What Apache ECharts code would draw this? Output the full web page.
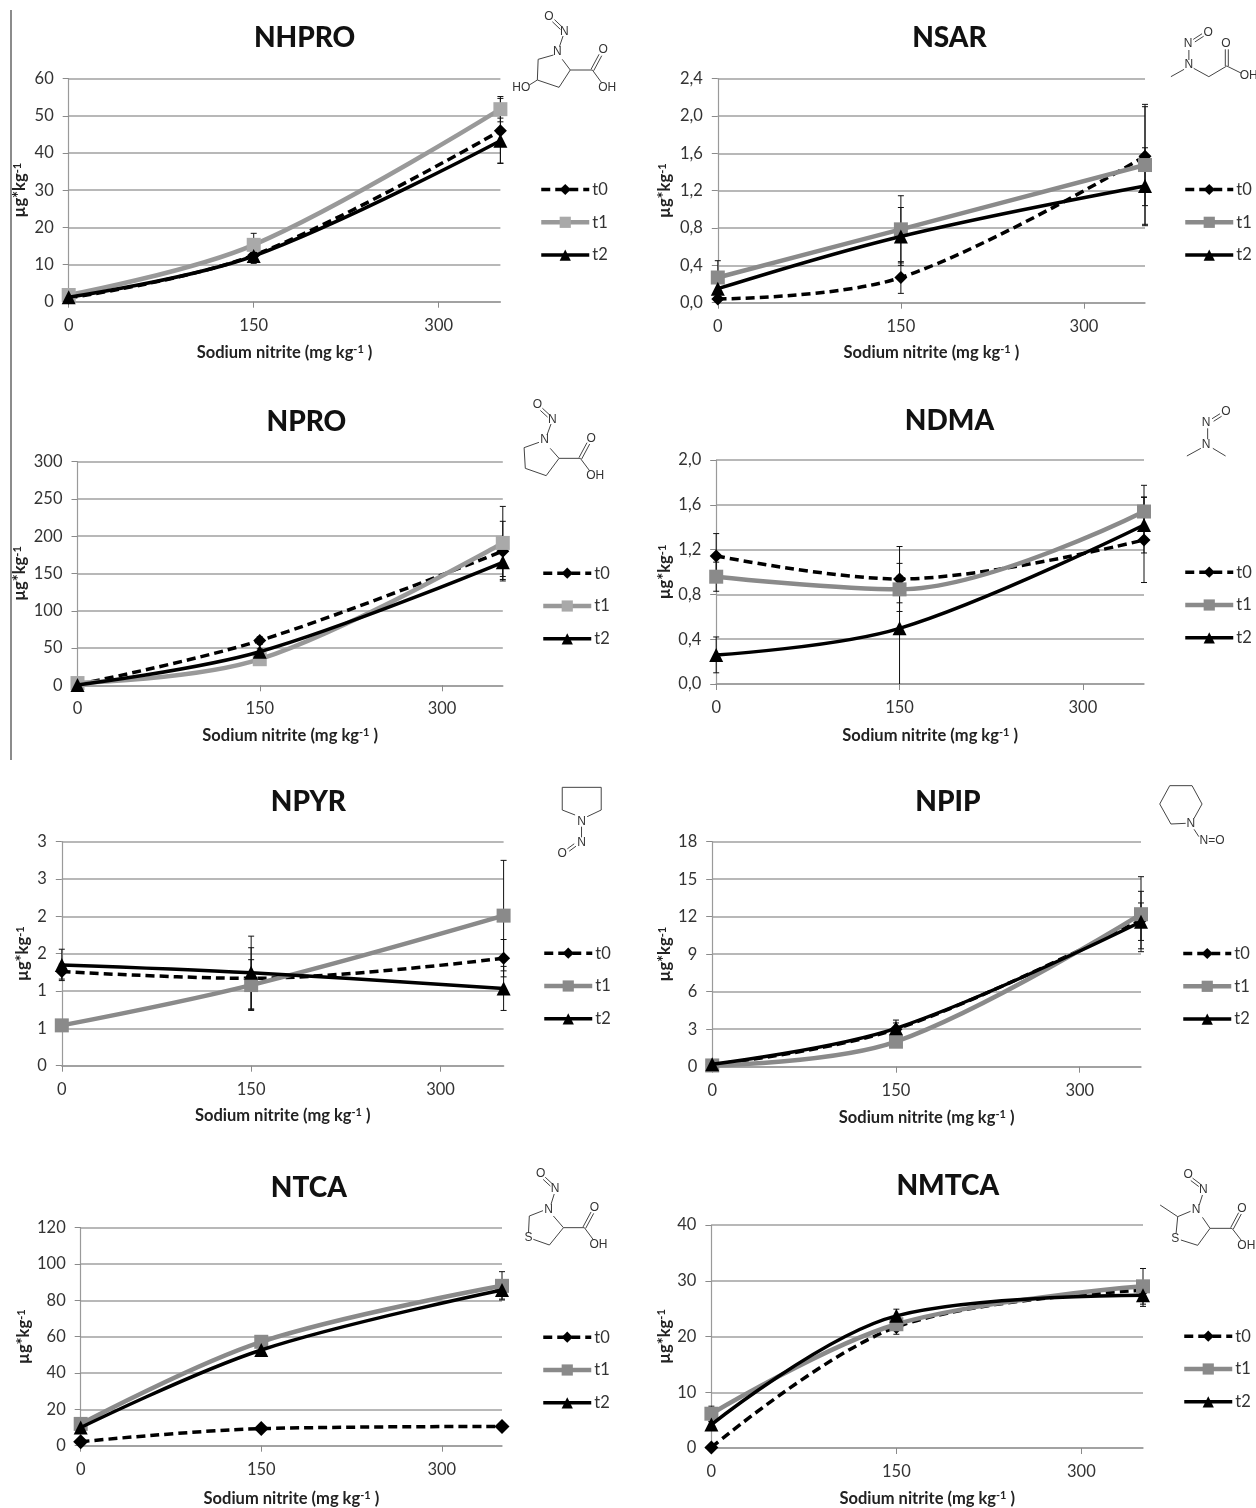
<!DOCTYPE html>
<html>
<head>
<meta charset="utf-8">
<style>html,body{margin:0;padding:0;background:#fff}#c{width:1256px;height:1508px}</style>
<script src="https://cdn.jsdelivr.net/npm/echarts@6/dist/echarts.min.js"></script>
</head>
<body>
<div id="c"></div>
<script>
// ---- data ----
const doses = [0, 150, 350];
const xTicks = [0, 150, 300];
const legendNames = ['t0', 't1', 't2'];

const NHPRO_t0 = [1.0, 12.5, 46.0];
const NHPRO_t1 = [1.8, 15.3, 51.8];
const NHPRO_t2 = [1.2, 12.3, 43.3];
const NHPRO_e0 = [0.3, 1.5, 8.7];
const NHPRO_e1 = [0.3, 3.1, 3.4];
const NHPRO_e2 = [0.3, 2.0, 6.1];

const NSAR_t0 = [0.04, 0.27, 1.57];
const NSAR_t1 = [0.27, 0.786, 1.475];
const NSAR_t2 = [0.15, 0.71, 1.25];
const NSAR_e0 = [0.02, 0.17, 0.53];
const NSAR_e1 = [0.18, 0.36, 0.65];
const NSAR_e2 = [0.14, 0.31, 0.41];

const NPRO_t0 = [1, 60, 180];
const NPRO_t1 = [3, 35, 191];
const NPRO_t2 = [0.5, 45, 165];
const NPRO_e0 = [0.5, 5, 40];
const NPRO_e1 = [1, 3, 49];
const NPRO_e2 = [0.3, 4, 19];

const NDMA_t0 = [1.143, 0.9375, 1.286];
const NDMA_t1 = [0.958, 0.845, 1.54];
const NDMA_t2 = [0.26, 0.497, 1.42];
const NDMA_e0 = [0.2, 0.29, 0.38];
const NDMA_e1 = [0.13, 0.12, 0.234];
const NDMA_e2 = [0.16, 0.58, 0.25];

const NPYR_t0 = [1.26, 1.17, 1.44];
const NPYR_t1 = [0.54, 1.08, 2.01];
const NPYR_t2 = [1.35, 1.245, 1.035];
const NPYR_e0 = [0.1, 0.41, 0.25];
const NPYR_e1 = [0.03, 0.34, 0.74];
const NPYR_e2 = [0.21, 0.49, 0.295];

const NPIP_t0 = [0.15, 3.0, 11.73];
const NPIP_t1 = [0.1, 2.0, 12.2];
const NPIP_t2 = [0.2, 3.07, 11.6];
const NPIP_e0 = [0.05, 0.5, 2.3];
const NPIP_e1 = [0.05, 0.4, 3.0];
const NPIP_e2 = [0.05, 0.66, 1.5];

const NTCA_t0 = [2.2, 9.4, 10.6];
const NTCA_t1 = [12, 57.2, 88];
const NTCA_t2 = [10, 52.7, 85.7];
const NTCA_e0 = [0.5, 1, 1];
const NTCA_e1 = [1, 1, 7.8];
const NTCA_e2 = [1, 1, 5];

const NMTCA_t0 = [0.1, 21.7, 28.3];
const NMTCA_t1 = [6.15, 22.2, 29];
const NMTCA_t2 = [4.2, 23.7, 27.4];
const NMTCA_e0 = [0.1, 1.3, 1];
const NMTCA_e1 = [1.35, 1, 3.2];
const NMTCA_e2 = [0.5, 1.2, 2];

// ---- layout ----
const FONT = 'Lato, "Open Sans", sans-serif';
const commaFmt = v => v.toFixed(1).replace('.', ',');
const intFmt = v => String(v);
const roundFmt = v => String(Math.round(v));

const panels = [
  {n:'NHPRO',d:[NHPRO_t0,NHPRO_t1,NHPRO_t2],e:[NHPRO_e0,NHPRO_e1,NHPRO_e2],max:60,step:10,f:intFmt,g:[68.7,500.4,78.7,301.7],t:[304.6,36.7],l:[542,182],xn:352,yn:21,m:'#a9a9a9',lc:'#999999',ds:13},
  {n:'NSAR',d:[NSAR_t0,NSAR_t1,NSAR_t2],e:[NSAR_e0,NSAR_e1,NSAR_e2],max:2.4,step:0.4,f:commaFmt,g:[717.8,1145,78.7,302.7],t:[949.4,36.7],l:[1186,182],xn:352,yn:666,m:'#8a8a8a',lc:'#8a8a8a',ds:13},
  {n:'NPRO',d:[NPRO_t0,NPRO_t1,NPRO_t2],e:[NPRO_e0,NPRO_e1,NPRO_e2],max:300,step:50,f:intFmt,g:[77.5,502.8,461.7,685.3],t:[306.4,420.7],l:[544,565.7],xn:735,yn:21,m:'#a9a9a9',lc:'#999999',ds:13},
  {n:'NDMA',d:[NDMA_t0,NDMA_t1,NDMA_t2],e:[NDMA_e0,NDMA_e1,NDMA_e2],max:2,step:0.4,f:commaFmt,g:[716.2,1144,460,684],t:[949.4,419.3],l:[1186,564.7],xn:735,yn:666,m:'#8a8a8a',lc:'#8a8a8a',ds:13},
  {n:'NPYR',d:[NPYR_t0,NPYR_t1,NPYR_t2],e:[NPYR_e0,NPYR_e1,NPYR_e2],max:3,step:0.5,f:roundFmt,g:[61.8,503.6,841.7,1065.7],t:[308.4,800.7],l:[545,945.7],xn:1115,yn:24,m:'#8a8a8a',lc:'#8a8a8a',ds:13},
  {n:'NPIP',d:[NPIP_t0,NPIP_t1,NPIP_t2],e:[NPIP_e0,NPIP_e1,NPIP_e2],max:18,step:3,f:intFmt,g:[712.2,1141,841.7,1066.7],t:[948,800.7],l:[1184,946],xn:1117,yn:666,m:'#8a8a8a',lc:'#8a8a8a',ds:13},
  {n:'NTCA',d:[NTCA_t0,NTCA_t1,NTCA_t2],e:[NTCA_e0,NTCA_e1,NTCA_e2],max:120,step:20,f:intFmt,g:[80.7,502,1227.7,1445.7],t:[308.8,1186.7],l:[544,1329.7],xn:1498,yn:25,m:'#8a8a8a',lc:'#8a8a8a',ds:15},
  {n:'NMTCA',d:[NMTCA_t0,NMTCA_t1,NMTCA_t2],e:[NMTCA_e0,NMTCA_e1,NMTCA_e2],max:40,step:10,f:intFmt,g:[711.4,1143,1225,1448],t:[947.8,1184.3],l:[1185,1328.7],xn:1498,yn:666,m:'#8a8a8a',lc:'#8a8a8a',ds:14}
];

// molecule sketches, in crop coordinates of each panel
const SY = 3;
const molecules = [
  {ox:0,oy:0,sx:2.49,
   txt:[['O',1367,50],['N',1405,95],['N',1388,155],['O',1502,150],['HO',1298,262],['OH',1512,262]],
   b:[[1402,108,1393,140],[1378,165,1340,178],[1340,178,1338,240],[1338,240,1392,262],[1392,262,1420,210],[1420,210,1400,178],[1338,240,1318,255],[1420,210,1475,210],[1475,210,1498,248]],
   d:[[1378,62,1398,85],[1475,210,1495,165]]},
  {ox:630,oy:0,sx:2.505,
   txt:[['N',1398,130],['O',1448,97],['N',1400,195],['O',1493,130],['OH',1550,228]],
   b:[[1400,150,1400,180],[1355,230,1388,208],[1412,205,1450,230],[1450,230,1495,198],[1495,198,1532,220]],
   d:[[1413,122,1435,105],[1495,198,1495,148]]},
  {ox:0,oy:380,sx:2.49,
   txt:[['O',1338,75],['N',1375,118],['N',1356,180],['O',1472,175],['OH',1482,288]],
   b:[[1372,132,1362,165],[1342,187,1305,203],[1305,203,1308,265],[1308,265,1360,287],[1360,287,1392,235],[1392,235,1370,205],[1392,235,1445,235],[1445,235,1468,272]],
   d:[[1348,88,1366,108],[1445,235,1465,190]]},
  {ox:630,oy:380,sx:2.505,
   txt:[['N',1443,128],['O',1493,95],['N',1443,195]],
   b:[[1447,145,1447,178],[1395,228,1430,205],[1460,205,1492,228]],
   d:[[1460,120,1480,105]]},
  {ox:0,oy:760,sx:2.49,
   txt:[['N',1448,185],['N',1448,248],['O',1400,280]],
   b:[[1432,165,1400,150],[1400,150,1400,82],[1400,82,1497,82],[1497,82,1497,150],[1497,150,1462,170],[1448,200,1448,232]],
   d:[[1432,255,1415,270]]},
  {ox:630,oy:760,sx:2.505,
   txt:[['N',1405,192],['N=O',1458,243]],
   b:[[1392,190,1355,192],[1355,192,1327,132],[1327,132,1352,77],[1352,77,1408,77],[1408,77,1433,132],[1433,132,1413,175],[1413,208,1425,230]],
   d:[]},
  {ox:0,oy:1140,sx:2.49,
   txt:[['O',1346,102],['N',1382,147],['N',1366,208],['O',1480,203],['S',1316,293],['OH',1490,315]],
   b:[[1380,162,1372,193],[1352,212,1318,228],[1318,228,1316,278],[1328,298,1368,315],[1368,315,1403,263],[1403,263,1378,228],[1403,263,1455,263],[1455,263,1478,300]],
   d:[[1355,115,1373,135],[1455,263,1475,218]]},
  {ox:630,oy:1140,sx:2.505,
   txt:[['O',1398,105],['N',1436,148],['N',1418,210],['O',1533,205],['S',1366,295],['OH',1544,318]],
   b:[[1434,165,1426,195],[1404,214,1372,230],[1372,230,1328,195],[1372,230,1368,280],[1380,300,1422,316],[1422,316,1453,265],[1453,265,1434,232],[1453,265,1508,265],[1508,265,1532,302]],
   d:[[1407,118,1427,136],[1508,265,1528,220]]}
];

// ---- option building ----
const title = [], grid = [], xAxis = [], yAxis = [], series = [], legend = [], graphic = [];

const errRender = (params, api) => {
  const x = api.value(0), lo = Math.max(0, api.value(1)), hi = api.value(2);
  const a = api.coord([x, lo]), b = api.coord([x, hi]);
  const st = {stroke:'#111', lineWidth:1, fill:null};
  const kids = [{type:'line',shape:{x1:a[0],y1:a[1],x2:b[0],y2:b[1]},style:st},
                {type:'line',shape:{x1:b[0]-3,y1:b[1],x2:b[0]+3,y2:b[1]},style:st}];
  if (api.value(1) > 0) kids.push({type:'line',shape:{x1:a[0]-3,y1:a[1],x2:a[0]+3,y2:a[1]},style:st});
  return {type:'group',children:kids};
};

const rich = {
  b:{fontFamily:FONT,fontWeight:'bold',fontSize:16.5,color:'#222'},
  s:{fontFamily:FONT,fontWeight:'bold',fontSize:11,color:'#222',verticalAlign:'top',padding:[0,0,6,0]}
};

panels.forEach((p, i) => {
  const [x0, x1, y0, y1] = p.g;
  title.push({text:p.n,left:p.t[0]-5,top:p.t[1]-20.5,textAlign:'center',
    textStyle:{fontFamily:FONT,fontWeight:900,fontSize:28,color:'#111',lineHeight:34}});
  grid.push({left:x0,top:y0,width:x1-x0,height:y1-y0,containLabel:false});
  xAxis.push({type:'value',gridIndex:i,min:0,max:350,interval:150,
    name:'{b|Sodium nitrite (mg kg}{s|-1}{b| )}',nameLocation:'middle',nameGap:p.xn-y1-8,
    nameTextStyle:{rich},
    splitLine:{show:false},
    axisLine:{lineStyle:{color:'#9a9a9a',width:1.5}},
    axisTick:{show:true,length:6,lineStyle:{color:'#8a8a8a',width:1},customValues:xTicks},
    axisLabel:{customValues:xTicks,margin:15,fontFamily:FONT,fontSize:16.5,color:'#333',formatter:intFmt}});
  yAxis.push({type:'value',gridIndex:i,min:0,max:p.max,interval:p.step,
    name:'{b|µg*kg}{s|-1}',nameLocation:'middle',nameRotate:90,nameGap:x0-p.yn-7.5,
    nameTextStyle:{rich},
    splitLine:{show:true,lineStyle:{color:'#a0a0a0',width:1.5}},
    axisLine:{show:true,lineStyle:{color:'#9a9a9a',width:1.2}},
    axisTick:{show:true,length:6,lineStyle:{color:'#8a8a8a',width:1}},
    axisLabel:{margin:15,fontFamily:FONT,fontSize:16.5,color:'#333',formatter:p.f}});

  // error bars, beneath the lines
  [0,1,2].forEach(k => {
    series.push({type:'custom',name:p.n+' err '+legendNames[k],xAxisIndex:i,yAxisIndex:i,clip:false,z:2,silent:true,
      renderItem:errRender,encode:{x:0,y:[1,2]},
      data:doses.map((d,j)=>[d,p.d[k][j]-p.e[k][j],p.d[k][j]+p.e[k][j]])});
  });

  const styles = [
    {symbol:'diamond',symbolSize:p.ds,line:{color:'#000',width:3.5,type:[9,5]},item:{color:'#000'}},
    {symbol:'rect',symbolSize:14,line:{color:p.lc,width:4.5,type:'solid'},item:{color:p.m}},
    {symbol:'triangle',symbolSize:14,line:{color:'#000',width:3.5,type:'solid'},item:{color:'#000'}}
  ];
  styles.forEach((s,k) => {
    series.push({type:'line',name:p.n+' '+legendNames[k],xAxisIndex:i,yAxisIndex:i,clip:false,z:3+k,
      smooth:0.35,symbol:s.symbol,symbolSize:s.symbolSize,
      lineStyle:s.line,itemStyle:s.item,
      data:doses.map((d,j)=>[d,p.d[k][j]])});
  });

  legend.push({orient:'vertical',left:p.l[0]-3,top:p.l[1]-1,padding:0,itemWidth:48,itemHeight:14,itemGap:15.8,
    selectedMode:false,data:legendNames.map(t=>p.n+' '+t),formatter:nm=>nm.split(' ')[1],
    lineStyle:{width:'inherit'},
    textStyle:{fontFamily:FONT,fontSize:16.5,color:'#333',padding:[0,0,0,-2]}});
});

// thin frame line at the left of the two upper rows
graphic.push({type:'line',shape:{x1:11,y1:10,x2:11,y2:760},style:{stroke:'#666',lineWidth:1.5},silent:true});

molecules.forEach(m => {
  const X = v => m.ox + v / m.sx, Y = v => m.oy + v / SY;
  const st = {stroke:'#444',lineWidth:1};
  m.b.forEach(s => graphic.push({type:'line',silent:true,shape:{x1:X(s[0]),y1:Y(s[1]),x2:X(s[2]),y2:Y(s[3])},style:st}));
  m.d.forEach(s => {
    const dx = X(s[2])-X(s[0]), dy = Y(s[3])-Y(s[1]), l = Math.hypot(dx,dy), nx = -dy/l*1.5, ny = dx/l*1.5;
    [1,-1].forEach(q => graphic.push({type:'line',silent:true,
      shape:{x1:X(s[0])+q*nx,y1:Y(s[1])+q*ny,x2:X(s[2])+q*nx,y2:Y(s[3])+q*ny},style:st}));
  });
  m.txt.forEach(t => graphic.push({type:'text',silent:true,x:X(t[1]),y:Y(t[2]),
    style:{text:t[0],fill:'#333',fontFamily:'"Liberation Sans", sans-serif',fontSize:12,align:'center',verticalAlign:'middle'}}));
});

const chart = echarts.init(document.getElementById('c'), null, {renderer:'canvas', width:1256, height:1508});
chart.setOption({animation:false,backgroundColor:'#fff',tooltip:{show:false},title,grid,xAxis,yAxis,legend,series,graphic});
</script>
</body>
</html>
